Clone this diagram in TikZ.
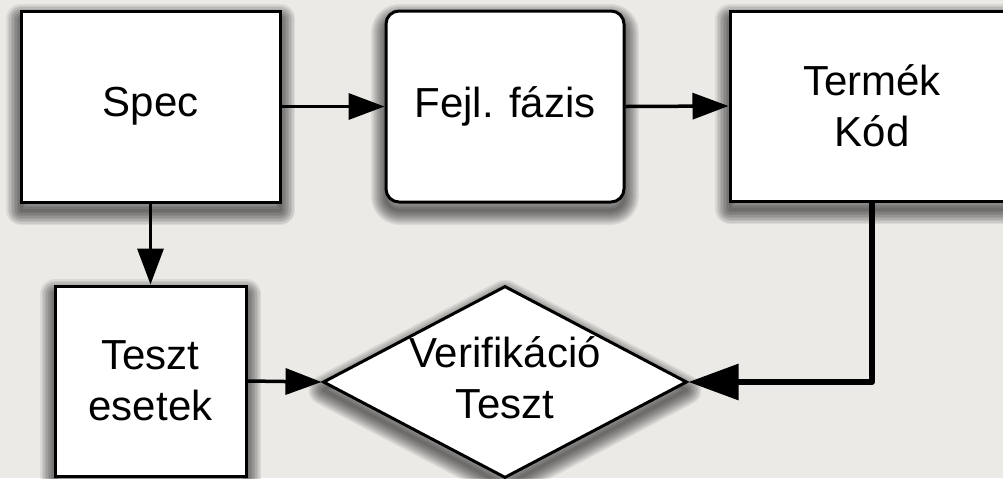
\documentclass[tikz,border=0pt]{standalone}
\usepackage{fontspec}
\setmainfont{Liberation Sans}
\usetikzlibrary{arrows.meta,shapes.geometric}
\definecolor{paper}{HTML}{ECEAE6}
\tikzset{
  % soft drop shadow built from stacked translucent strokes
  shadow ring/.style={preaction={fill=none, draw=black, draw opacity=.07,
      line join=round, line width=#1, transform canvas={yshift=-4pt}}},
  soft shadow/.style={shadow ring=15pt, shadow ring=13.5pt, shadow ring=12pt,
      shadow ring=10.5pt, shadow ring=9pt, shadow ring=7.5pt, shadow ring=6pt,
      shadow ring=4.5pt, shadow ring=3pt, shadow ring=1.5pt},
  block/.style={draw, line width=1.5pt, fill=white, soft shadow,
      inner sep=0pt, align=center,
      font=\fontsize{21}{25.5}\selectfont},
  flow/.style={line width=1.75pt, -{Triangle[length=18pt,width=13pt]}},
  heavyflow/.style={line width=3pt, line join=round,
      -{Triangle[length=25pt,width=17.5pt]}},
  lbl/.style={align=center, inner sep=0pt, font=\fontsize{21}{25.5}\selectfont}
}
\begin{document}
\begin{tikzpicture}[x=0.5pt,y=-0.5pt]
  % paper background and page frame
  \path[use as bounding box, fill=paper] (0,0) rectangle (1003,478);

  % process blocks
  \node[block, minimum width=129.5pt, minimum height=95.5pt] (spec) at (150.5,106.5) {Spec};
  \node[block, rounded corners=6.5pt, minimum width=119pt, minimum height=95.5pt] (fejl) at (505,106.5) {Fejl. fázis};
  \node[block, minimum width=142pt, minimum height=95pt] (kod) at (872,106) {Termék\\Kód};
  \node[block, minimum width=95.5pt, minimum height=95pt] (teszt) at (150.5,381) {Teszt\\esetek};

  % verification decision
  \node[block, diamond, minimum width=182pt, minimum height=96pt] (ver) at (505,382) {};
  \node[lbl] (verlbl) at (505,378) {Verifikáció\\Teszt};

  % connectors
  \draw[flow] (spec.east) -- (fejl.west);
  \draw[flow] (fejl.east) -- (kod.west);
  \draw[flow] (spec.south) -- (teszt.north);
  \draw[flow] (teszt.east) -- (ver.west);
  \draw[heavyflow] (kod.south) |- (ver.east);
\end{tikzpicture}
\end{document}
